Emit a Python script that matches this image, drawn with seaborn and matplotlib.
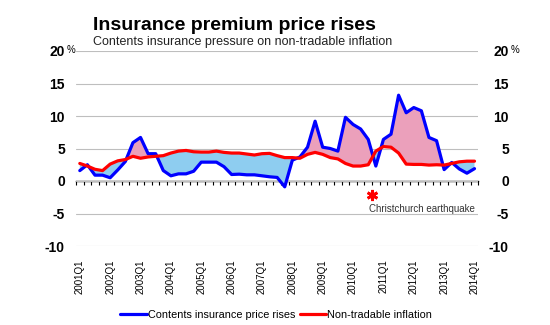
import numpy as np
import pandas as pd
import matplotlib
matplotlib.use("Agg")
import matplotlib.pyplot as plt
import seaborn as sns

# Quarterly categories, 2001Q1 .. 2014Q1
quarters = [f"{y}Q{q}" for y in range(2001, 2014) for q in range(1, 5)] + ["2014Q1"]

# Annual % change
contents_insurance = [1.6, 2.5, 0.9, 0.9, 0.5, 1.7, 3.0, 5.9, 6.7, 4.2,
                      4.2, 1.6, 0.8, 1.1, 1.1, 1.5, 2.9, 2.9, 2.9, 2.2,
                      1.0, 1.05, 0.95, 0.95, 0.8, 0.65, 0.55, -0.9, 3.2, 3.7,
                      5.2, 9.2, 5.2, 5.0, 4.6, 9.8, 8.7, 8.0, 6.4, 2.3,
                      6.4, 7.2, 13.2, 10.5, 11.3, 10.8, 6.7, 6.2, 1.75, 2.85,
                      1.85, 1.2, 1.9]
non_tradable = [2.7, 2.3, 1.8, 1.6, 2.6, 3.1, 3.3, 3.8, 3.5, 3.7,
                3.8, 3.9, 4.3, 4.6, 4.7, 4.5, 4.45, 4.45, 4.6, 4.4,
                4.3, 4.3, 4.15, 4.0, 4.2, 4.25, 3.9, 3.6, 3.6, 3.5,
                4.1, 4.4, 4.1, 3.6, 3.4, 2.7, 2.3, 2.3, 2.5, 4.6,
                5.3, 5.2, 4.3, 2.6, 2.55, 2.55, 2.45, 2.5, 2.45, 2.7,
                2.95, 3.05, 3.05]
y_ticks = [-10, -5, 0, 5, 10, 15, 20]

BLUE = "#0000FF"
RED = "#FF0000"
PINK = "#EBA0BB"
LIGHTBLUE = "#8ECDF0"

sns.set_style("white")
plt.rcParams["font.family"] = ["Liberation Sans", "DejaVu Sans"]
plt.rcParams["text.color"] = "black"
plt.rcParams["xtick.color"] = "black"
plt.rcParams["ytick.color"] = "black"
plt.rcParams["xtick.labelcolor"] = "black"
plt.rcParams["ytick.labelcolor"] = "black"

df = pd.DataFrame({
    "pos": np.arange(len(quarters)),
    "quarter": quarters,
    "contents": contents_insurance,
    "nontradable": non_tradable,
})

fig = plt.figure(figsize=(5.5, 3.25), dpi=100)
ax = fig.add_axes([76 / 550, 1 - 246 / 325, 402.3 / 550, 195 / 325])

c = df["contents"].to_numpy()
n = df["nontradable"].to_numpy()
x = df["pos"].to_numpy()
ax.fill_between(x, c, n, where=c >= n, interpolate=True, color=PINK, lw=0, zorder=1)
ax.fill_between(x, c, n, where=c < n, interpolate=True, color=LIGHTBLUE, lw=0, zorder=1)

sns.lineplot(data=df, x="pos", y="contents", color=BLUE, lw=2.3, ax=ax,
             label="Contents insurance price rises", zorder=3)
sns.lineplot(data=df, x="pos", y="nontradable", color=RED, lw=2.3, ax=ax,
             label="Non-tradable inflation", zorder=4)
handles, labels = ax.get_legend_handles_labels()
ax.get_legend().remove()

ax.set_xlim(-0.5, len(quarters) - 0.5)
ax.set_ylim(-10, 20)
ax.set_xlabel("")
ax.set_ylabel("")
for s in ax.spines.values():
    s.set_visible(False)

# horizontal gridlines
ax.set_yticks(y_ticks)
ax.yaxis.grid(True, color="#BEBEBE", lw=0.8)
ax.xaxis.grid(False)
ax.set_axisbelow(True)
ax.set_yticklabels([str(v) for v in y_ticks], fontsize=10, fontweight="bold")
ax.tick_params(axis="y", length=0, pad=8)

# category labels along the bottom
ax.set_xticks(x[::4])
ax.set_xticklabels(quarters[::4], rotation=90, fontsize=7)
ax.tick_params(axis="x", length=0, pad=9.5)

# zero axis with quarter tick marks
zero = ax.secondary_xaxis(1 / 3)
zero.set_xticks(np.arange(-0.5, len(quarters), 1.0))
zero.tick_params(axis="x", direction="out", length=3, width=0.8, color="black",
                 labelbottom=False)
zero.spines["bottom"].set_color("black")
zero.spines["bottom"].set_linewidth(1.0)

# right-hand axis
ax2 = ax.twinx()
ax2.set_ylim(-10, 20)
ax2.set_yticks(y_ticks)
ax2.set_yticklabels([str(v) for v in y_ticks], fontsize=10, fontweight="bold")
for lab in ax2.get_yticklabels():
    lab.set_horizontalalignment("right")
ax2.tick_params(axis="y", length=0, pad=22)
for s in ax2.spines.values():
    s.set_visible(False)
ax2.grid(False)

fig.text(67 / 550, 1 - 50 / 325, "%", fontsize=7, va="center", ha="left")
fig.text(511 / 550, 1 - 50 / 325, "%", fontsize=7, va="center", ha="left")

# earthquake marker
ax.plot([38.46], [-2.1], marker=(6, 2, 0), ms=8, mew=2.0, color=RED,
        clip_on=False, zorder=5)
ax.text(52.0, -4.3, "Christchurch earthquake", fontsize=7, color="#333333",
        ha="right", va="center")

# titles
fig.text(93 / 550, 1 - 30 / 325, "Insurance premium price rises",
         fontsize=14, fontweight="bold", va="baseline", ha="left")
fig.text(93 / 550, 1 - 45 / 325, "Contents insurance pressure on non-tradable inflation",
         fontsize=9, va="baseline", ha="left", color="#222222")

fig.legend(handles, labels, loc="center", bbox_to_anchor=(0.502, 0.031), ncol=2,
           frameon=False, fontsize=7.8, handlelength=2.45, handletextpad=0.05,
           columnspacing=0.45)

fig.savefig("out.png", dpi=100)
